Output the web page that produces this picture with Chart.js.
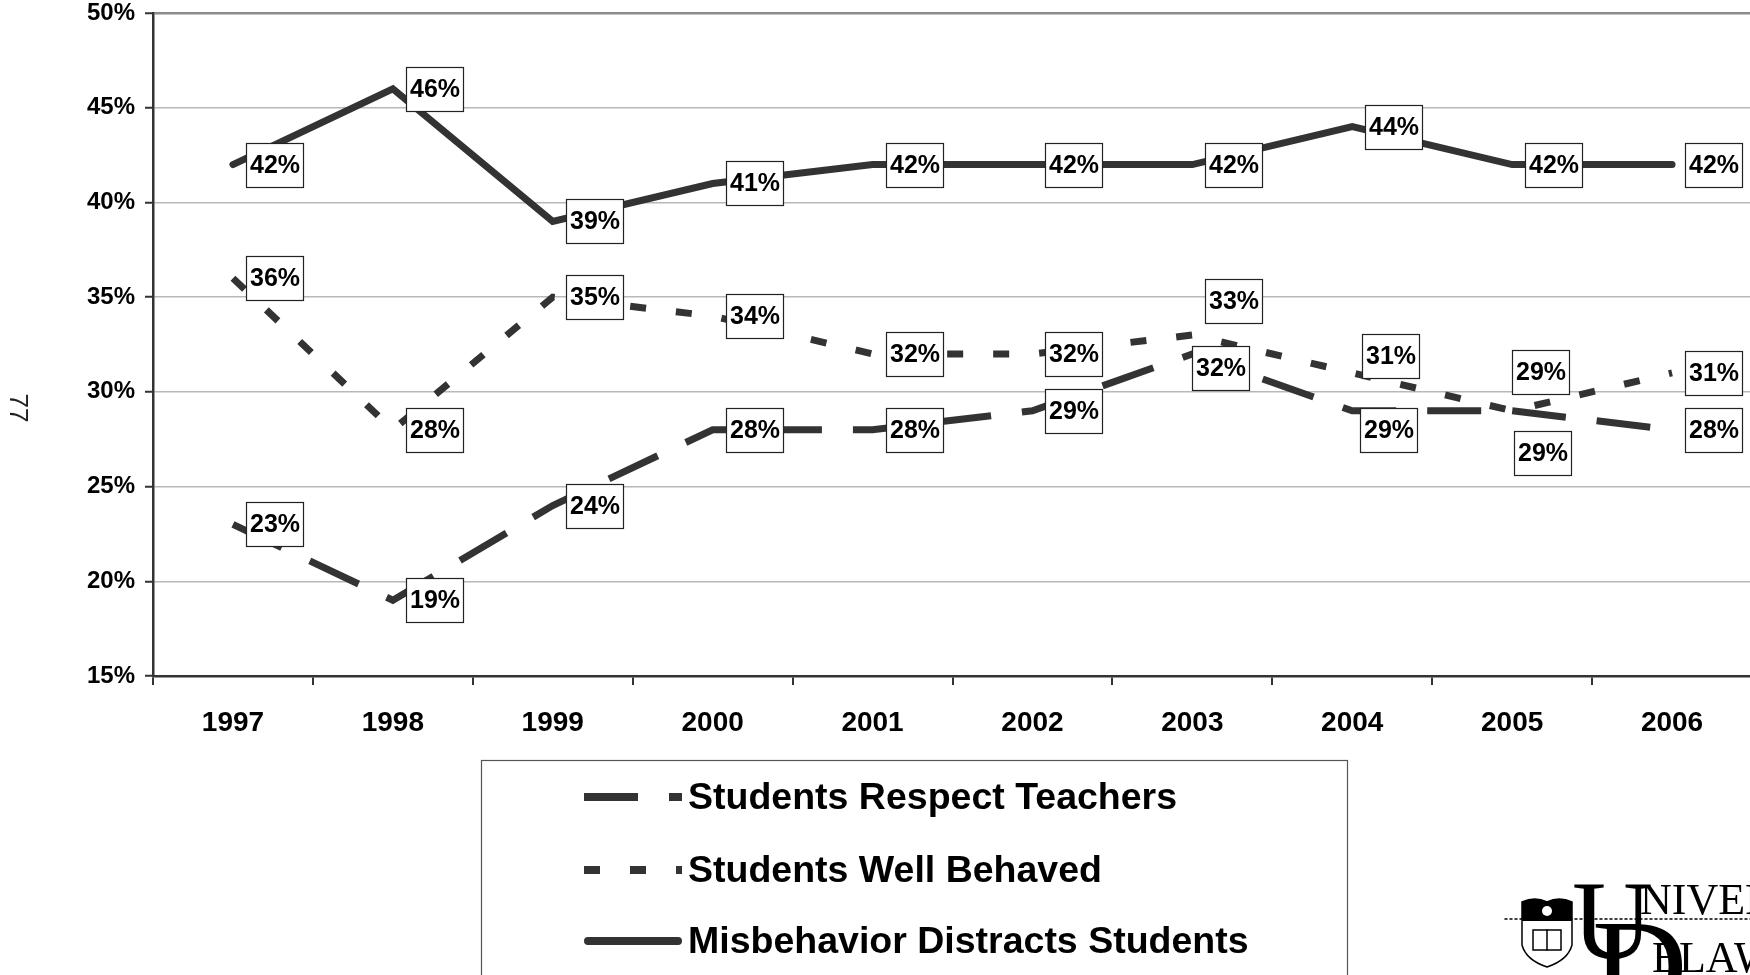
<!DOCTYPE html>
<html lang="en">
<head>
<meta charset="UTF-8">
<title>School Climate 1997-2006</title>
<script src="https://cdn.jsdelivr.net/npm/chart.js@4.4.1/dist/chart.umd.min.js"></script>
<style>
    html, body { margin: 0; padding: 0; background: #fff; overflow: hidden; }
    #chartBox { position: relative; width: 1760px; height: 975px; }
</style>
</head>
<body>
<div id="chartBox"><canvas id="climateChart"></canvas></div>
<script>
// Data
const years = ['1997', '1998', '1999', '2000', '2001', '2002', '2003', '2004', '2005', '2006'];
const respectTeachers = [23, 19, 24, 28, 28, 29, 32, 29, 29, 28];
const wellBehaved = [36, 28, 35, 34, 32, 32, 33, 31, 29, 31];
const misbehaviorDistracts = [42, 46, 39, 41, 42, 42, 42, 44, 42, 42];
const yTickValues = [15, 20, 25, 30, 35, 40, 45, 50];
const seriesNames = ['Students Respect Teachers', 'Students Well Behaved', 'Misbehavior Distracts Students'];

// Label nudges (px) where the boxes were moved apart in the original
const respectNudgeX = [13, 13, 13, 13, 13, 13, 0, 8, 2, 13];
const respectNudgeY = [0, 0, 0, 0, 0, 0, 14, 19, 42, 0];
const wellNudgeX = [13, 13, 13, 13, 13, 13, 13, 10, 0, 13];
const wellNudgeY = [0, 0, 0, 0, 0, 0, -34, -17, -39, 0];

document.addEventListener('DOMContentLoaded', () => {
    const chartCanvas = document.getElementById('climateChart');
    const FONT = "'Liberation Sans', Arial, sans-serif";
    const LINE = '#333333';

    // Series styling
    const seriesConfig = [
        { data: respectTeachers, dash: [54, 31], cap: 'butt', nudgeX: respectNudgeX, nudgeY: respectNudgeY },
        { data: wellBehaved, dash: [16, 30], cap: 'butt', nudgeX: wellNudgeX, nudgeY: wellNudgeY },
        { data: misbehaviorDistracts, dash: [], cap: 'round', nudgeX: null, nudgeY: null }
    ];

    // Boxed value labels next to each point
    const valueLabels = {
        id: 'valueLabels',
        afterDatasetsDraw(chart) {
            const ctx = chart.ctx;
            ctx.save();
            ctx.font = `bold 25px ${FONT}`;
            ctx.textAlign = 'center';
            ctx.textBaseline = 'middle';
            chart.data.datasets.forEach((ds, di) => {
                const cfg = seriesConfig[di];
                chart.getDatasetMeta(di).data.forEach((pt, i) => {
                    const text = ds.data[i] + '%';
                    const w = 57, h = 44;
                    const dx = cfg.nudgeX ? cfg.nudgeX[i] : 13;
                    const dy = cfg.nudgeY ? cfg.nudgeY[i] : 0;
                    const left = Math.round(pt.x + dx) + 0.5;
                    const top = Math.round(pt.y + dy - h / 2) + 0.5;
                    ctx.fillStyle = '#fff';
                    ctx.fillRect(left, top, w, h);
                    ctx.strokeStyle = '#222';
                    ctx.lineWidth = 1.2;
                    ctx.strokeRect(left, top, w, h);
                    ctx.fillStyle = '#000';
                    ctx.fillText(text, left + w / 2, top + h / 2 + 1);
                });
            });
            ctx.restore();
        }
    };

    // Legend box below the axis, page number and logo
    const pageExtras = {
        id: 'pageExtras',
        afterDraw(chart) {
            const ctx = chart.ctx;
            ctx.save();

            // legend frame (runs off the bottom of the page)
            ctx.strokeStyle = '#555';
            ctx.lineWidth = 1.2;
            ctx.strokeRect(481.5, 760.5, 866, 260);

            const rowsY = [797, 870, 941];
            seriesConfig.forEach((cfg, i) => {
                ctx.beginPath();
                ctx.setLineDash(cfg.dash);
                ctx.lineCap = cfg.cap;
                ctx.lineWidth = 8;
                ctx.strokeStyle = LINE;
                const x0 = cfg.cap === 'round' ? 588 : 584;
                const x1 = cfg.cap === 'round' ? 678 : 682;
                ctx.moveTo(x0, rowsY[i]);
                ctx.lineTo(x1, rowsY[i]);
                ctx.stroke();
                ctx.setLineDash([]);
                ctx.fillStyle = '#000';
                ctx.font = `bold 37.5px ${FONT}`;
                ctx.textAlign = 'left';
                ctx.textBaseline = 'middle';
                ctx.fillText(seriesNames[i], 688, rowsY[i] + 2);
            });

            // rotated page number
            ctx.save();
            ctx.translate(17, 408);
            ctx.rotate(Math.PI / 2);
            ctx.font = `26px ${FONT}`;
            ctx.fillStyle = '#222';
            ctx.textAlign = 'center';
            ctx.textBaseline = 'middle';
            ctx.fillText('77', 0, 0);
            ctx.restore();

            // rough University of Delaware logo
            ctx.strokeStyle = '#000';
            ctx.lineWidth = 1.5;
            ctx.setLineDash([2, 3]);
            ctx.beginPath();
            ctx.moveTo(1505, 919);
            ctx.lineTo(1760, 919);
            ctx.stroke();
            ctx.setLineDash([]);

            ctx.beginPath();
            ctx.moveTo(1522, 902);
            ctx.quadraticCurveTo(1535, 896, 1547, 902);
            ctx.quadraticCurveTo(1559, 896, 1572, 902);
            ctx.lineTo(1572, 945);
            ctx.quadraticCurveTo(1568, 960, 1547, 967);
            ctx.quadraticCurveTo(1526, 960, 1522, 945);
            ctx.closePath();
            ctx.fillStyle = '#fff';
            ctx.fill();
            ctx.stroke();
            ctx.fillStyle = '#000';
            ctx.beginPath();
            ctx.moveTo(1522, 902);
            ctx.quadraticCurveTo(1535, 896, 1547, 902);
            ctx.quadraticCurveTo(1559, 896, 1572, 902);
            ctx.lineTo(1572, 921);
            ctx.lineTo(1522, 921);
            ctx.closePath();
            ctx.fill();
            ctx.strokeRect(1533, 930, 28, 20);
            ctx.beginPath();
            ctx.moveTo(1547, 930);
            ctx.lineTo(1547, 950);
            ctx.stroke();
            ctx.fillStyle = '#fff';
            ctx.beginPath();
            ctx.arc(1547, 911, 5, 0, Math.PI * 2);
            ctx.fill();

            ctx.fillStyle = '#000';
            ctx.font = `112px 'Liberation Serif', serif`;
            ctx.textAlign = 'left';
            ctx.textBaseline = 'alphabetic';
            ctx.fillText('U', 1572, 958);
            ctx.font = `132px 'Liberation Serif', serif`;
            ctx.fillText('D', 1592, 1010);
            ctx.font = `44px 'Liberation Serif', serif`;
            ctx.fillText('NIVERSI', 1640, 914);
            ctx.fillText('ELAW', 1652, 972);
            ctx.restore();
        }
    };

    const datasets = seriesConfig.map((cfg, i) => ({
        label: seriesNames[i],
        data: cfg.data,
        borderColor: LINE,
        backgroundColor: LINE,
        borderWidth: 7,
        borderDash: cfg.dash,
        borderCapStyle: cfg.cap,
        borderJoinStyle: 'miter',
        pointRadius: 0,
        pointHoverRadius: 0,
        tension: 0,
        fill: false
    }));

    new Chart(chartCanvas, {
        type: 'line',
        data: { labels: years, datasets: datasets },
        options: {
            responsive: true,
            maintainAspectRatio: false,
            animation: false,
            layout: { padding: { left: 0, top: 13, right: 8, bottom: 239 } },
            plugins: {
                legend: { display: false },
                tooltip: { enabled: false },
                title: { display: false }
            },
            scales: {
                x: {
                    offset: true,
                    grid: {
                        offset: true,
                        drawOnChartArea: false,
                        tickLength: 9,
                        tickColor: LINE,
                        tickWidth: 2,
                        lineWidth: 2
                    },
                    border: { display: true, color: LINE, width: 2.5 },
                    ticks: {
                        font: { family: FONT, size: 28, weight: 'bold' },
                        color: '#000',
                        padding: 21,
                        autoSkip: false,
                        maxRotation: 0
                    },
                    afterFit(scale) {
                        scale.height = 60;
                        scale.paddingLeft = 0;
                        scale.paddingRight = 0;
                    }
                },
                y: {
                    min: 15,
                    max: 50,
                    afterBuildTicks(scale) {
                        scale.ticks = yTickValues.map(v => ({ value: v }));
                    },
                    grid: {
                        color: (c) => (c.tick && c.tick.value === 50) ? '#8c8c8c' : '#b8b8b8',
                        lineWidth: (c) => (c.tick && c.tick.value === 50) ? 2.5 : 1.5,
                        tickLength: 8,
                        tickColor: LINE,
                        tickWidth: 2
                    },
                    border: { display: true, color: LINE, width: 2.5 },
                    ticks: {
                        font: { family: FONT, size: 24, weight: 'bold' },
                        color: '#000',
                        padding: 10,
                        callback: (v) => v + '%'
                    },
                    afterFit(scale) {
                        scale.width = 153;
                        scale.paddingTop = 0;
                        scale.paddingBottom = 0;
                    }
                }
            }
        },
        plugins: [valueLabels, pageExtras]
    });
});
</script>
</body>
</html>
